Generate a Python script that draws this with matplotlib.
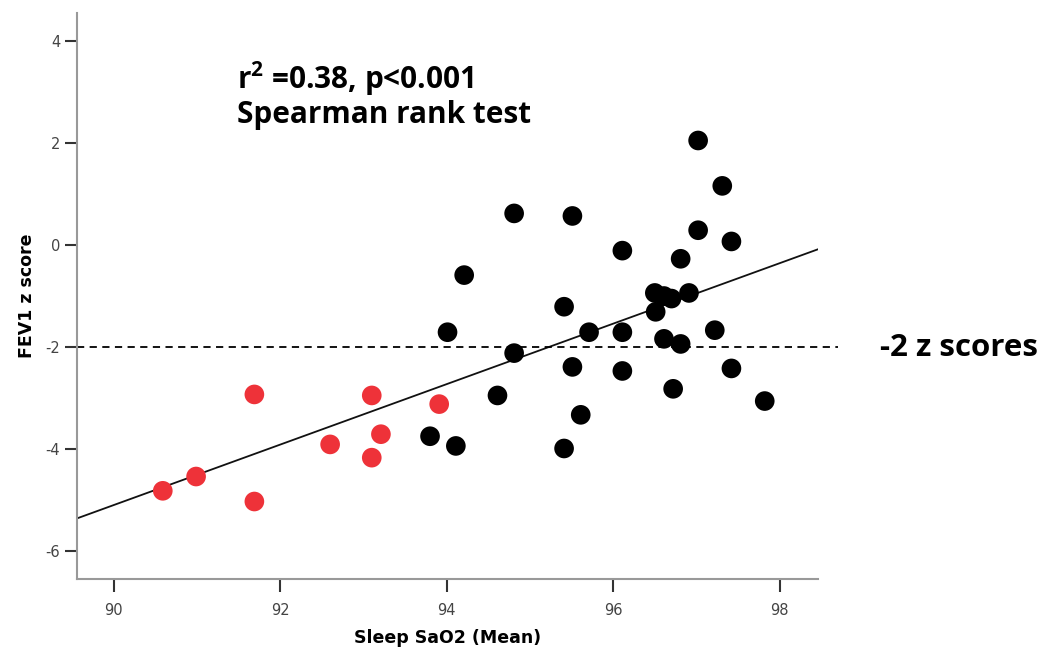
import numpy as np
import matplotlib
matplotlib.use("Agg")
import matplotlib.pyplot as plt

# red points: below -2 z score and low sleep SaO2
red_sao2 = [90.59, 90.99, 91.69, 91.69, 92.60, 93.10, 93.21, 93.10, 93.91]
red_fev1 = [-4.82, -4.54, -2.93, -5.03, -3.91, -2.95, -3.71, -4.17, -3.12]

# black points
black_sao2 = [93.80, 94.11, 97.02, 97.31, 94.81, 95.51, 97.02, 97.42, 96.11, 96.81,
              94.21, 96.50, 96.61, 96.70, 96.91, 96.51, 95.41, 94.01, 95.71, 96.11,
              97.22, 96.61, 96.81, 94.81, 95.51, 96.11, 97.42, 96.72, 94.61, 97.82,
              95.61, 95.41]
black_fev1 = [-3.75, -3.94, 2.05, 1.16, 0.62, 0.57, 0.29, 0.07, -0.11, -0.27,
              -0.59, -0.94, -1.00, -1.05, -0.94, -1.31, -1.21, -1.71, -1.71, -1.71,
              -1.67, -1.84, -1.94, -2.12, -2.39, -2.47, -2.42, -2.82, -2.95, -3.06,
              -3.33, -3.99]

# fit line
fit_slope = 0.593
fit_intercept = -58.47
cutoff = -2

xticks = [90, 92, 94, 96, 98]
yticks = [-6, -4, -2, 0, 2, 4]

plt.rcParams['axes.unicode_minus'] = False
plt.rcParams['mathtext.fontset'] = 'custom'
plt.rcParams['mathtext.rm'] = 'Open Sans:bold'
plt.rcParams['mathtext.it'] = 'Open Sans:bold'
plt.rcParams['mathtext.bf'] = 'Open Sans:bold'

fig = plt.figure(figsize=(10.41, 6.5), dpi=100)
ax = fig.add_axes([0.074, 0.1092, 0.7118, 0.8708])

ax.set_xlim(89.56, 98.46)
ax.set_ylim(-6.55, 4.55)

ax.scatter(red_sao2, red_fev1, s=200, color='#ee3239', edgecolors='none', zorder=3)
ax.scatter(black_sao2, black_fev1, s=200, color='black', edgecolors='none', zorder=3)

xs = np.array(ax.get_xlim())
ax.plot(xs, fit_intercept + fit_slope * xs, color='#111111', lw=1.3, zorder=2)

ax.plot([89.56, 98.70], [cutoff, cutoff], color='black', lw=1.3, ls=(0, (4, 3)),
        clip_on=False, zorder=2)

for s in ['top', 'right']:
    ax.spines[s].set_visible(False)
for s in ['left', 'bottom']:
    ax.spines[s].set_color('#999999')
    ax.spines[s].set_linewidth(1.5)

ax.set_xticks(xticks)
ax.set_yticks(yticks)
ax.tick_params(axis='both', direction='out', length=9, width=1.5, color='#333333',
               labelsize=10.5, labelcolor='#444444')
ax.tick_params(axis='x', pad=8)
ax.tick_params(axis='y', pad=3)

ax.set_xlabel('Sleep SaO2 (Mean)', fontsize=12.5, fontweight='bold', labelpad=8.5)
ax.set_ylabel('FEV1 z score', fontsize=12.5, fontweight='bold', labelpad=7)

fig.text(0.2277, 0.863, r'r$^{2}$ =0.38, p<0.001', fontsize=21.4, family='Open Sans',
         fontweight='bold', va='baseline')
fig.text(0.2277, 0.811, 'Spearman rank test', fontsize=21.4, family='Open Sans',
         fontweight='bold', va='baseline')
fig.text(0.8453, 0.4523, '-2 z scores', fontsize=22.5, family='Open Sans',
         fontweight='bold', va='baseline')

fig.savefig('out.png', dpi=100)
